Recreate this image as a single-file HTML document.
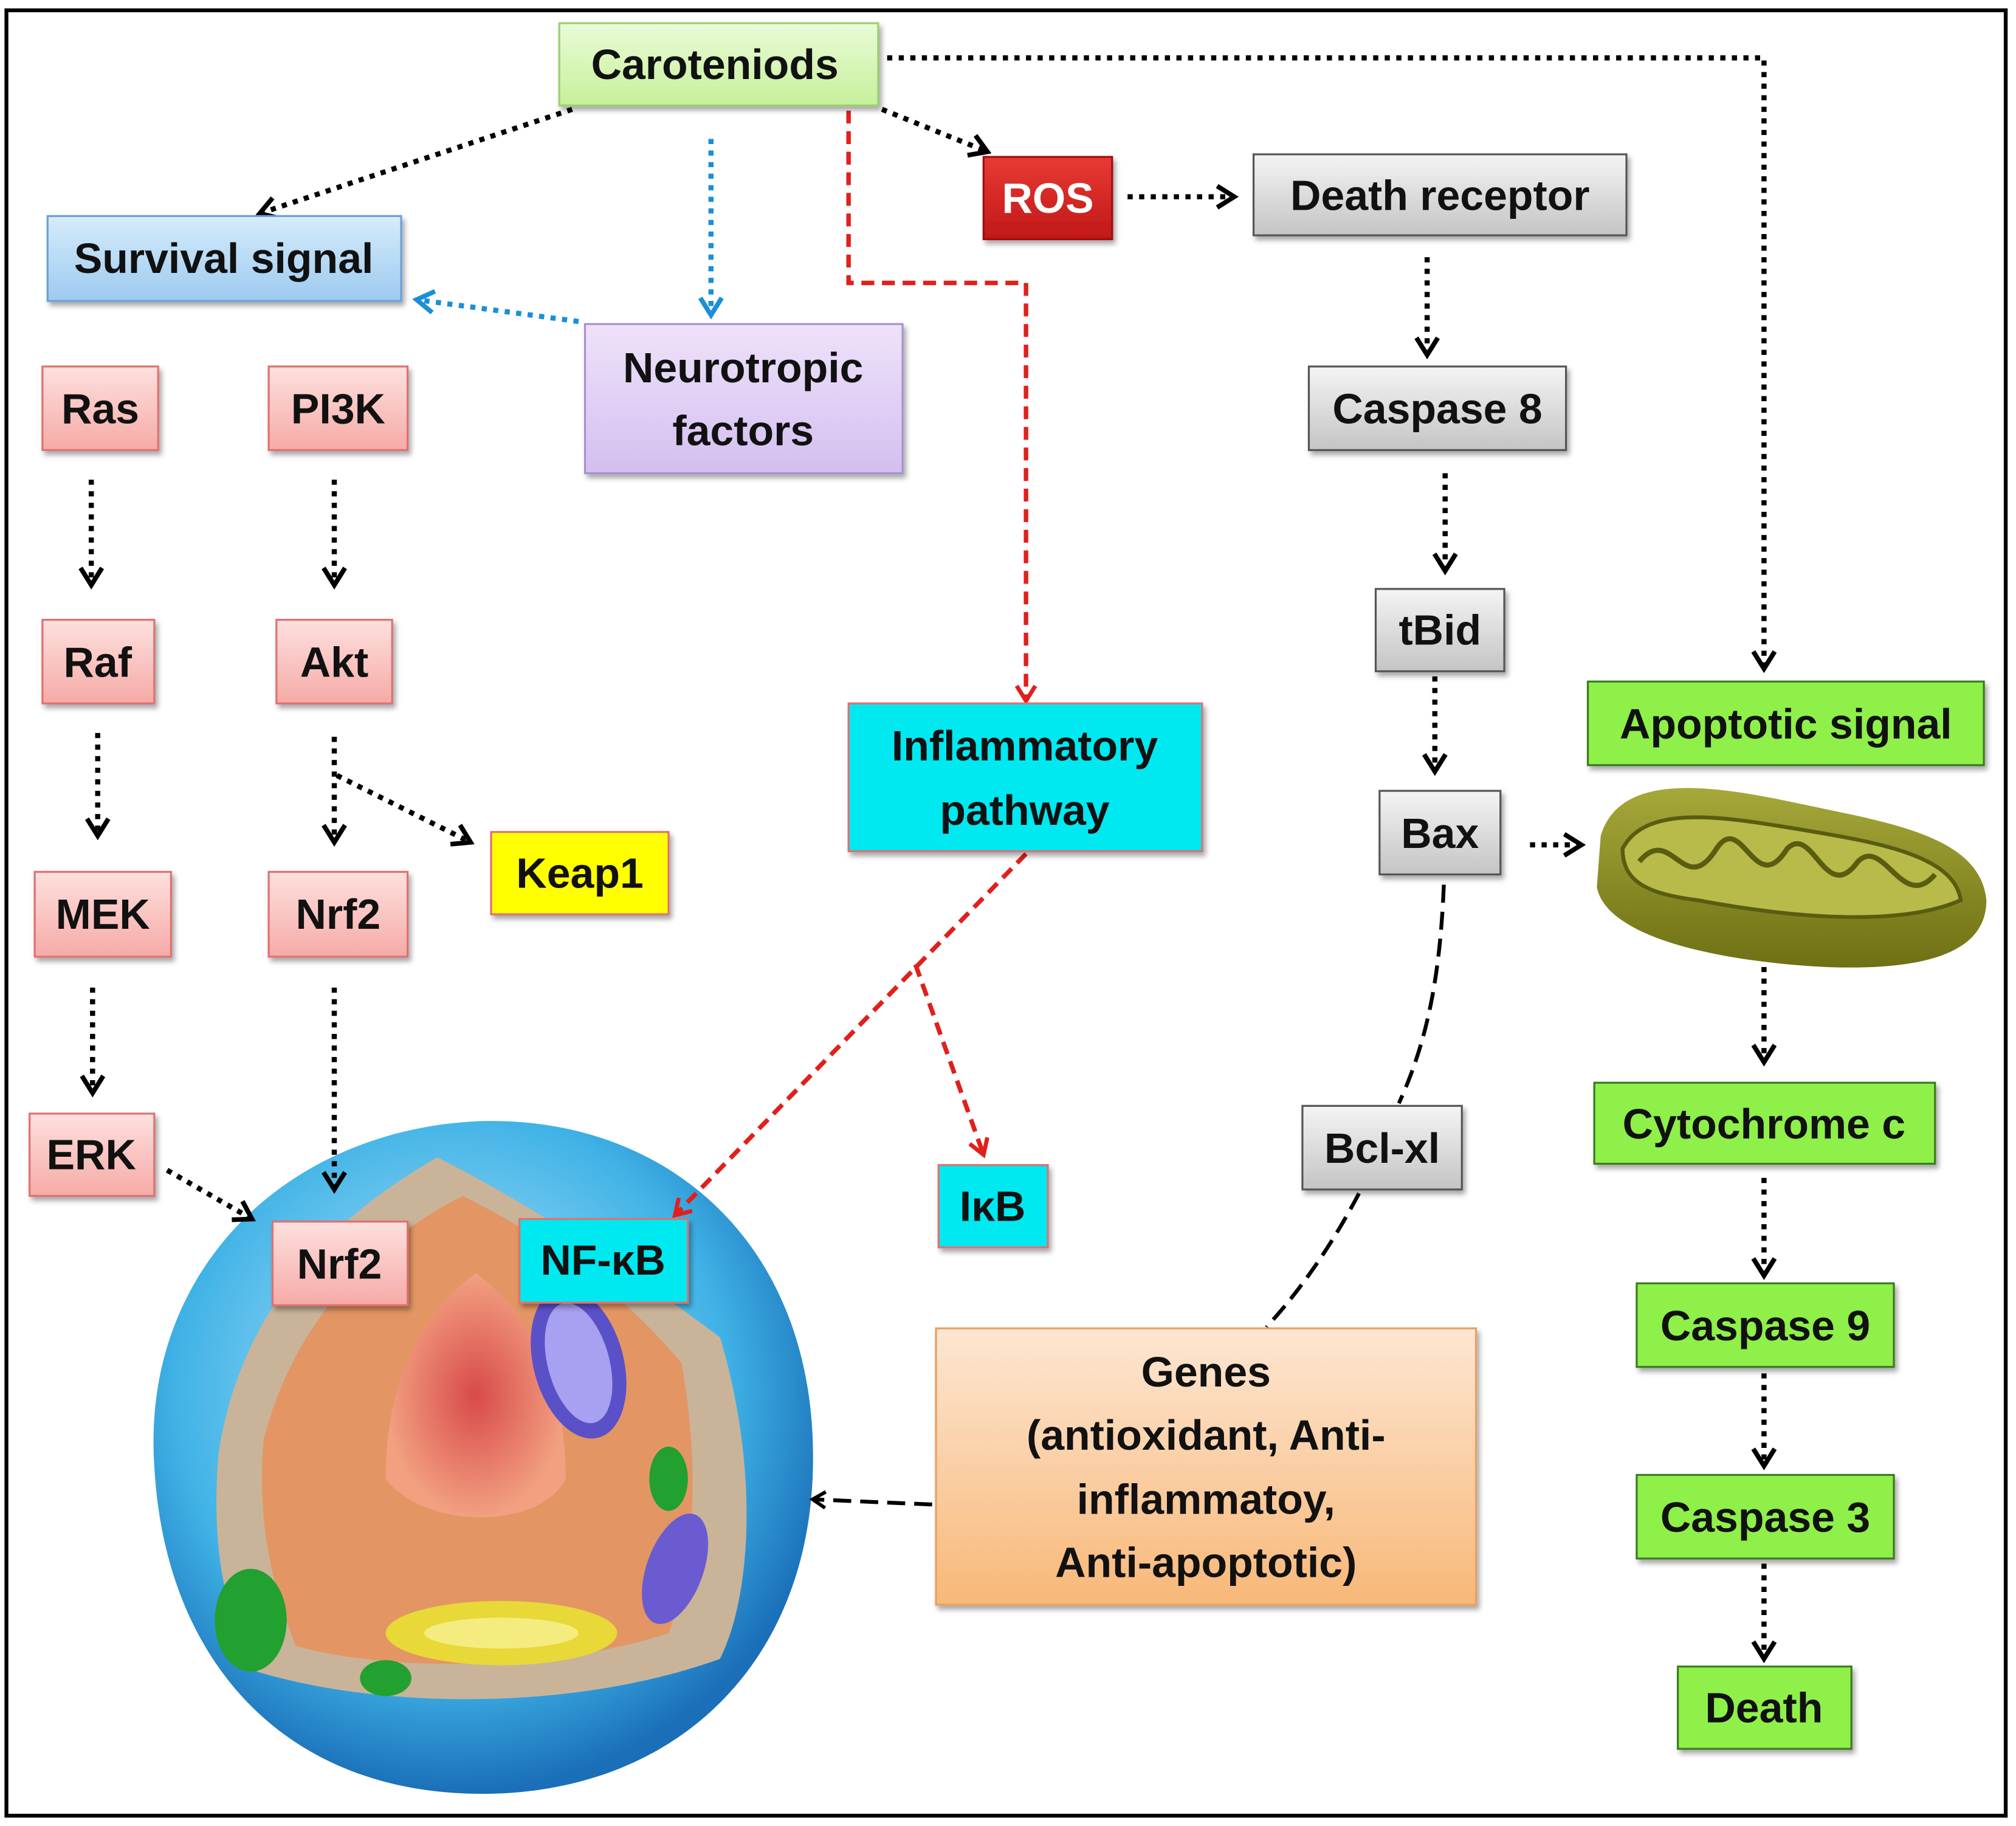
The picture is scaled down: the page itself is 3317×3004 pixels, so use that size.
<!DOCTYPE html>
<html><head><meta charset="utf-8"><style>
html,body{margin:0;padding:0;background:#fff}
svg{display:block}
text{font-family:"Liberation Sans",sans-serif;font-weight:bold;font-size:33px;fill:#111;text-anchor:middle;dominant-baseline:central}
</style></head><body>
<svg width="3317" height="3004" viewBox="0 0 1568 1420" xmlns="http://www.w3.org/2000/svg">
<defs>
<marker id="ab" viewBox="0 0 12 12" refX="10" refY="6" markerWidth="5" markerHeight="5" orient="auto" markerUnits="strokeWidth"><polyline points="2,1 10,6 2,11" fill="none" stroke="#000" stroke-width="2.2"/></marker>
<marker id="abl" viewBox="0 0 12 12" refX="10" refY="6" markerWidth="5" markerHeight="5" orient="auto" markerUnits="strokeWidth"><polyline points="2,1 10,6 2,11" fill="none" stroke="#1a8fd8" stroke-width="2.2"/></marker>
<marker id="ar" viewBox="0 0 12 12" refX="10" refY="6" markerWidth="5" markerHeight="5" orient="auto" markerUnits="strokeWidth"><polyline points="2,1 10,6 2,11" fill="none" stroke="#e0201c" stroke-width="2.2"/></marker>
<linearGradient id="gGreen" x1="0" y1="0" x2="0" y2="1"><stop offset="0" stop-color="#eafbd8"/><stop offset="1" stop-color="#c6f09a"/></linearGradient>
<linearGradient id="gBlue" x1="0" y1="0" x2="0" y2="1"><stop offset="0" stop-color="#d6ecfb"/><stop offset="1" stop-color="#9ccaf0"/></linearGradient>
<linearGradient id="gPurp" x1="0" y1="0" x2="0" y2="1"><stop offset="0" stop-color="#eee2fa"/><stop offset="1" stop-color="#d3bff0"/></linearGradient>
<linearGradient id="gPink" x1="0" y1="0" x2="0" y2="1"><stop offset="0" stop-color="#fde0de"/><stop offset="1" stop-color="#f6aaa6"/></linearGradient>
<linearGradient id="gGray" x1="0" y1="0" x2="0" y2="1"><stop offset="0" stop-color="#f4f4f4"/><stop offset="1" stop-color="#c4c4c4"/></linearGradient>
<linearGradient id="gRed" x1="0" y1="0" x2="0" y2="1"><stop offset="0" stop-color="#e83a34"/><stop offset="1" stop-color="#c01818"/></linearGradient>
<linearGradient id="gOr" x1="0" y1="0" x2="0" y2="1"><stop offset="0" stop-color="#fde6d2"/><stop offset="1" stop-color="#f8b878"/></linearGradient>
<radialGradient id="gCell" cx="0.45" cy="0.4" r="0.6"><stop offset="0" stop-color="#bfeafc"/><stop offset="0.7" stop-color="#3fb2e6"/><stop offset="1" stop-color="#1a6fb8"/></radialGradient>
<radialGradient id="gNuc" cx="0.5" cy="0.5" r="0.5"><stop offset="0" stop-color="#d84a4a"/><stop offset="1" stop-color="#f2a080"/></radialGradient>
<linearGradient id="gMito" x1="0" y1="0" x2="0" y2="1"><stop offset="0" stop-color="#a6a83a"/><stop offset="1" stop-color="#6e7014"/></linearGradient>
<filter id="sh" x="-10%" y="-10%" width="130%" height="140%"><feDropShadow dx="2" dy="3" stdDeviation="2" flood-color="#000" flood-opacity="0.35"/></filter>
</defs>
<rect x="5" y="8" width="1555" height="1404" fill="#fff" stroke="#000" stroke-width="3"/>

<g>
<path d="M120,1140 C110,990 220,880 370,872 C520,866 640,970 632,1150 C625,1300 520,1395 375,1395 C220,1395 128,1290 120,1140 Z" fill="url(#gCell)"/>
<path d="M170,1130 C190,1000 280,935 340,900 C400,930 480,980 560,1040 C590,1140 585,1240 560,1290 C450,1330 300,1330 200,1300 C170,1250 165,1190 170,1130 Z" fill="#c9b49a"/>
<path d="M205,1120 C230,1020 300,960 360,930 C420,960 480,1000 530,1060 C545,1140 540,1220 520,1270 C430,1300 300,1300 230,1280 C210,1230 200,1180 205,1120 Z" fill="#e8905a" opacity="0.85"/>
<path d="M300,1150 C300,1070 330,1020 370,990 C410,1020 440,1070 440,1150 C420,1190 330,1190 300,1150 Z" fill="url(#gNuc)"/>
<ellipse cx="450" cy="1060" rx="35" ry="60" fill="#5a50c8" transform="rotate(-15 450 1060)"/>
<ellipse cx="450" cy="1060" rx="24" ry="48" fill="#a8a0f0" transform="rotate(-15 450 1060)"/>
<ellipse cx="525" cy="1220" rx="22" ry="45" fill="#6a5cd0" transform="rotate(20 525 1220)"/>
<ellipse cx="520" cy="1150" rx="15" ry="25" fill="#22a030"/>
<ellipse cx="195" cy="1260" rx="28" ry="40" fill="#22a030"/>
<ellipse cx="300" cy="1305" rx="20" ry="14" fill="#22a030"/>
<ellipse cx="390" cy="1270" rx="90" ry="25" fill="#e8d838"/>
<ellipse cx="390" cy="1270" rx="60" ry="12" fill="#f5ec80"/>
</g>

<path d="M1245,650 C1260,600 1330,610 1400,625 C1470,640 1540,650 1545,700 C1545,740 1500,755 1420,752 C1340,748 1250,730 1242,690 Z" fill="url(#gMito)"/>
<path d="M1262,660 C1280,625 1340,635 1400,645 C1460,655 1520,665 1525,700 C1480,720 1400,715 1320,700 C1280,695 1262,685 1262,660 Z" fill="#b8ba4a" stroke="#5a5c10" stroke-width="3"/>
<path d="M1275,670 C1300,640 1310,700 1335,660 C1355,630 1365,700 1390,660 C1410,640 1420,705 1445,670 C1465,650 1480,710 1505,680" fill="none" stroke="#5a5c10" stroke-width="4"/>

<g fill="none" stroke="#000" stroke-width="4" stroke-dasharray="4 5" marker-end="url(#ab)">
<path d="M445,85 L202,166"/>
<path d="M686,85 L768,118"/>
<path d="M877,153 L960,153"/>
<path d="M690,45 L1372,45 L1372,520"/>
<path d="M1110,200 L1110,276"/>
<path d="M1124,368 L1124,444"/>
<path d="M1116,526 L1116,600"/>
<path d="M1190,657 L1230,657"/>
<path d="M1372,752 L1372,826"/>
<path d="M1372,916 L1372,992"/>
<path d="M1372,1068 L1372,1140"/>
<path d="M1372,1216 L1372,1290"/>
<path d="M71,373 L71,455"/>
<path d="M76,570 L76,650"/>
<path d="M72,768 L72,850"/>
<path d="M260,373 L260,455"/>
<path d="M260,573 L260,655"/>
<path d="M262,603 L366,655"/>
<path d="M260,768 L260,925"/>
<path d="M130,910 L196,948"/>
</g>
<g fill="none" stroke="#1a8fd8" stroke-width="4" stroke-dasharray="4 5" marker-end="url(#abl)">
<path d="M553,108 L553,245"/>
<path d="M450,250 L324,233"/>
</g>
<g fill="none" stroke="#e0201c" stroke-width="3.5" stroke-dasharray="10 6" marker-end="url(#ar)">
<path d="M660,86 L660,220 L798,220 L798,545"/>
<path d="M798,664 L525,945"/>
<path d="M712,750 L765,898"/>
</g>
<g fill="none" stroke="#000" stroke-width="3" stroke-dasharray="14 7">
<path d="M1123,688 C1120,760 1110,810 1088,858"/>
<path d="M1057,928 C1035,970 1010,1005 985,1032"/>
<path d="M725,1170 L632,1166" marker-end="url(#ab)"/>
</g>

<g filter="url(#sh)" stroke-width="1.5">
<rect x="435" y="18" width="248" height="64" fill="url(#gGreen)" stroke="#9ccf70"/>
<rect x="37" y="168" width="275" height="66" fill="url(#gBlue)" stroke="#6aa0d8"/>
<rect x="455" y="252" width="247" height="116" fill="url(#gPurp)" stroke="#a890d0"/>
<rect x="765" y="122" width="100" height="64" fill="url(#gRed)" stroke="#a01010"/>
<rect x="975" y="120" width="290" height="63" fill="url(#gGray)" stroke="#555"/>
<rect x="1018" y="285" width="200" height="65" fill="url(#gGray)" stroke="#555"/>
<rect x="1070" y="458" width="100" height="64" fill="url(#gGray)" stroke="#555"/>
<rect x="1073" y="615" width="94" height="65" fill="url(#gGray)" stroke="#555"/>
<rect x="1013" y="860" width="124" height="65" fill="url(#gGray)" stroke="#555"/>
<rect x="1235" y="530" width="308" height="65" fill="#8ef04a" stroke="#3a7a20"/>
<rect x="1240" y="842" width="265" height="63" fill="#8ef04a" stroke="#3a7a20"/>
<rect x="1273" y="998" width="200" height="65" fill="#8ef04a" stroke="#3a7a20"/>
<rect x="1273" y="1147" width="200" height="65" fill="#8ef04a" stroke="#3a7a20"/>
<rect x="1305" y="1296" width="135" height="64" fill="#8ef04a" stroke="#3a7a20"/>
<rect x="33" y="285" width="90" height="65" fill="url(#gPink)" stroke="#e07070"/>
<rect x="209" y="285" width="108" height="65" fill="url(#gPink)" stroke="#e07070"/>
<rect x="33" y="482" width="87" height="65" fill="url(#gPink)" stroke="#e07070"/>
<rect x="215" y="482" width="90" height="65" fill="url(#gPink)" stroke="#e07070"/>
<rect x="27" y="678" width="106" height="66" fill="url(#gPink)" stroke="#e07070"/>
<rect x="209" y="678" width="108" height="66" fill="url(#gPink)" stroke="#e07070"/>
<rect x="23" y="866" width="97" height="64" fill="url(#gPink)" stroke="#e07070"/>
<rect x="382" y="647" width="138" height="64" fill="#ffff00" stroke="#e07070"/>
<rect x="660" y="547" width="275" height="115" fill="#00e8f0" stroke="#e07070"/>
<rect x="730" y="906" width="85" height="64" fill="#00e8f0" stroke="#e07070"/>
<rect x="212" y="950" width="105" height="65" fill="url(#gPink)" stroke="#e07070"/>
<rect x="404" y="948" width="131" height="65" fill="#00e8f0" stroke="#e07070"/>
<rect x="728" y="1033" width="420" height="215" fill="url(#gOr)" stroke="#e8a060"/>
</g>

<text x="556" y="50">Caroteniods</text>
<text x="174" y="201">Survival signal</text>
<text x="578" y="286">Neurotropic</text>
<text x="578" y="335">factors</text>
<text x="815" y="154" style="fill:#fff">ROS</text>
<text x="1120" y="152">Death receptor</text>
<text x="1118" y="318">Caspase 8</text>
<text x="1120" y="490">tBid</text>
<text x="1120" y="648">Bax</text>
<text x="1075" y="893">Bcl-xl</text>
<text x="1389" y="563">Apoptotic signal</text>
<text x="1372" y="874">Cytochrome c</text>
<text x="1373" y="1031">Caspase 9</text>
<text x="1373" y="1180">Caspase 3</text>
<text x="1372" y="1328">Death</text>
<text x="78" y="318">Ras</text>
<text x="263" y="318">PI3K</text>
<text x="76" y="515">Raf</text>
<text x="260" y="515">Akt</text>
<text x="80" y="711">MEK</text>
<text x="263" y="711">Nrf2</text>
<text x="71" y="898">ERK</text>
<text x="451" y="679">Keap1</text>
<text x="797" y="580">Inflammatory</text>
<text x="797" y="630">pathway</text>
<text x="772" y="938">IκB</text>
<text x="264" y="983">Nrf2</text>
<text x="469" y="980">NF-κB</text>
<text x="938" y="1067">Genes</text>
<text x="938" y="1116">(antioxidant, Anti-</text>
<text x="938" y="1166">inflammatoy,</text>
<text x="938" y="1215">Anti-apoptotic)</text>
</svg>
</body></html>
